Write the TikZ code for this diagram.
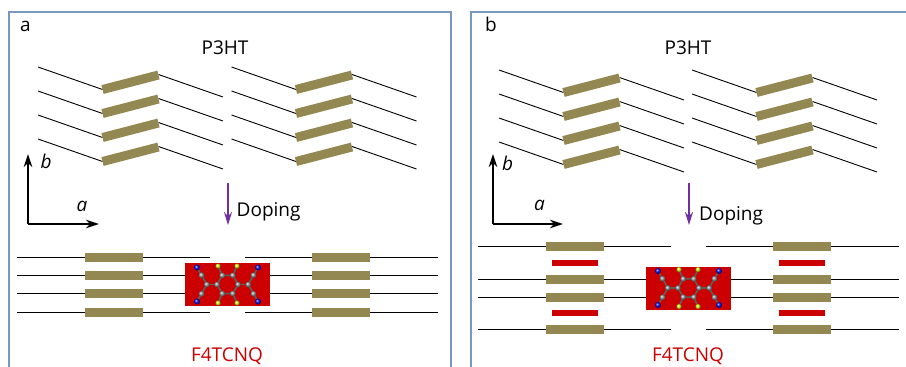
\documentclass[tikz,border=0pt]{standalone}
\usepackage{fontspec}
\setmainfont{Open Sans}
\usetikzlibrary{arrows.meta}

\definecolor{rodcol}{RGB}{148,136,82}
\definecolor{dopered}{RGB}{204,0,0}
\definecolor{dopearrow}{RGB}{112,48,160}
\definecolor{framecol}{RGB}{120,152,192}

% stacking of the chains (in px)
\newcommand{\stackstep}{24}
\newcommand{\groupstep}{193.5}
\newcommand{\txtsize}{\fontsize{19}{22}\selectfont}

\tikzset{
  chain/.style={line width=0.9pt, draw=black},
  rod/.style={line width=9pt, draw=rodcol},
  dopant/.style={line width=5.5pt, draw=dopered},
  axis/.style={line width=1.8pt, -{Stealth[length=13pt,width=8.5pt]}},
  dope/.style={line width=1.8pt, draw=dopearrow, -{Stealth[length=13pt,width=8pt]}},
  panel/.style={line width=1.3pt, draw=framecol},
  txt/.style={inner sep=0pt, font=\txtsize},
  molbox/.style={fill=dopered, minimum width=85pt, minimum height=43pt, inner sep=0pt},
  bond/.style={line width=1.6pt, draw=gray!75!black},
  f4tcnq/.pic={
    % bonds
    \draw[bond] (0:10.5) -- (60:10.5) -- (120:10.5) -- (180:10.5)
      -- (240:10.5) -- (300:10.5) -- cycle;
    \foreach \s in {1,-1} {
      \draw[bond] (\s*10.5,0) -- (\s*20.7,0);
      \draw[bond] (\s*20.7,0) -- (\s*26,9.3) -- (\s*30.5,17);
      \draw[bond] (\s*20.7,0) -- (\s*26,-9.3) -- (\s*30.5,-17);
      \draw[bond] (\s*5.25,9.1) -- (\s*9.5,18.5);
      \draw[bond] (\s*5.25,-9.1) -- (\s*9.5,-18.5);
    }
    % atoms
    \foreach \a in {0,60,...,300}
      \shade[ball color=gray!85] (\a:10.5) circle (2.9pt);
    \foreach \s in {1,-1} {
      \shade[ball color=gray!85] (\s*20.7,0) circle (2.9pt);
      \shade[ball color=gray!85] (\s*26,9.3) circle (2.9pt);
      \shade[ball color=gray!85] (\s*26,-9.3) circle (2.9pt);
      \shade[ball color=blue!90!black] (\s*30.5,17) circle (3pt);
      \shade[ball color=blue!90!black] (\s*30.5,-17) circle (3pt);
      \shade[ball color=yellow!85!green] (\s*9.5,18.5) circle (2.6pt);
      \shade[ball color=yellow!85!green] (\s*9.5,-18.5) circle (2.6pt);
    }
  }
}

\begin{document}
\begin{tikzpicture}[x=1pt, y=-1pt]
  \useasboundingbox (0,0) rectangle (906,367);

  % frames
  \draw[panel] (9,367) -- (9,12) -- (451,12) -- (451,367);
  \draw[panel] (471,367) -- (471,12) -- (906,12);

  % ---------------- panel a ----------------
  \node[txt, anchor=base west] (lbl-a) at (20,31.5) {a};
  \node[txt] (p3ht-a) at (225,48) {P3HT};

  % tilted stacks
  \foreach \g in {0,1} {
    \foreach \i in {0,...,3} {
      \pgfmathsetmacro{\dx}{\g*\groupstep}
      \pgfmathsetmacro{\yy}{67+\i*\stackstep}
      \draw[chain] (38+\dx,\yy) -- (102.5+\dx,\yy+22.5);
      \draw[chain] (158.5+\dx,\yy+7.5) -- (223+\dx,\yy+30);
      \draw[rod] (102.5+\dx,\yy+22.5) -- (158.5+\dx,\yy+8);
    }
  }

  % axes
  \coordinate (ax-a) at (28,224);
  \coordinate (ax-a-b) at (28,154);
  \coordinate (ax-a-a) at (99,224);
  \draw[axis] (ax-a) -- (ax-a-b);
  \draw[axis] (ax-a) -- (ax-a-a);
  \node[txt, anchor=base west] (b-a) at (40.5,168) {\itshape b};
  \node[txt, anchor=base west] (a-a) at (76.5,211.5) {\itshape a};

  % doping arrow
  \coordinate (dope-a-s) at (228,183);
  \coordinate (dope-a-e) at (228,225);
  \draw[dope] (dope-a-s) -- (dope-a-e);
  \node[txt, anchor=base west] (doping-a) at (236.5,216.5) {Doping};

  % flat stacks, dopant sits between them
  \foreach \y in {257,312} {
    \draw[chain] (17,\y) -- (210,\y);
    \draw[chain] (245,\y) -- (438,\y);
  }
  \foreach \y in {275.3,293.6}
    \draw[chain] (17,\y) -- (438,\y);
  \foreach \y in {257,275.3,293.6,312} {
    \draw[rod] (85,\y) -- (143,\y);
    \draw[rod] (312,\y) -- (370,\y);
  }
  \node[molbox] (mol-a) at (227.5,284.5) {};
  \pic at (mol-a) {f4tcnq};
  \node[txt, anchor=base, text=dopered] (f4tcnq-a) at (227,361) {F4TCNQ};

  % ---------------- panel b ----------------
  \node[txt, anchor=base west] (lbl-b) at (485,31.5) {b};
  \node[txt] (p3ht-b) at (688,48) {P3HT};

  % tilted stacks
  \foreach \g in {0,1} {
    \foreach \i in {0,...,3} {
      \pgfmathsetmacro{\dx}{461+\g*193}
      \pgfmathsetmacro{\yy}{70+\i*\stackstep}
      \draw[chain] (38+\dx,\yy) -- (102.5+\dx,\yy+22.5);
      \draw[chain] (158.5+\dx,\yy+7.5) -- (223+\dx,\yy+30);
      \draw[rod] (102.5+\dx,\yy+22.5) -- (158.5+\dx,\yy+8);
    }
  }

  % axes
  \coordinate (ax-b) at (493,224);
  \coordinate (ax-b-b) at (493,154);
  \coordinate (ax-b-a) at (563,224);
  \draw[axis] (ax-b) -- (ax-b-b);
  \draw[axis] (ax-b) -- (ax-b-a);
  \node[txt, anchor=base west] (b-b) at (502,170.5) {\itshape b};
  \node[txt, anchor=base west] (a-b) at (534,210.5) {\itshape a};

  % doping arrow
  \coordinate (dope-b-s) at (689,183);
  \coordinate (dope-b-e) at (689,225);
  \draw[dope] (dope-b-s) -- (dope-b-e);
  \node[txt, anchor=base west] (doping-b) at (699,220) {Doping};

  % flat stacks with dopants in between the layers
  \foreach \y in {246,329} {
    \draw[chain] (478,\y) -- (671,\y);
    \draw[chain] (706,\y) -- (899,\y);
  }
  \foreach \y in {279,297}
    \draw[chain] (478,\y) -- (899,\y);
  \foreach \y in {246,279,297,329} {
    \draw[rod] (546,\y) -- (604,\y);
    \draw[rod] (773,\y) -- (831,\y);
  }
  \foreach \y in {263,313} {
    \draw[dopant] (552,\y) -- (598,\y);
    \draw[dopant] (779,\y) -- (825,\y);
  }
  \node[molbox] (mol-b) at (688.5,288) {};
  \pic at (mol-b) {f4tcnq};
  \node[txt, anchor=base, text=dopered] (f4tcnq-b) at (688,361) {F4TCNQ};
\end{tikzpicture}
\end{document}
